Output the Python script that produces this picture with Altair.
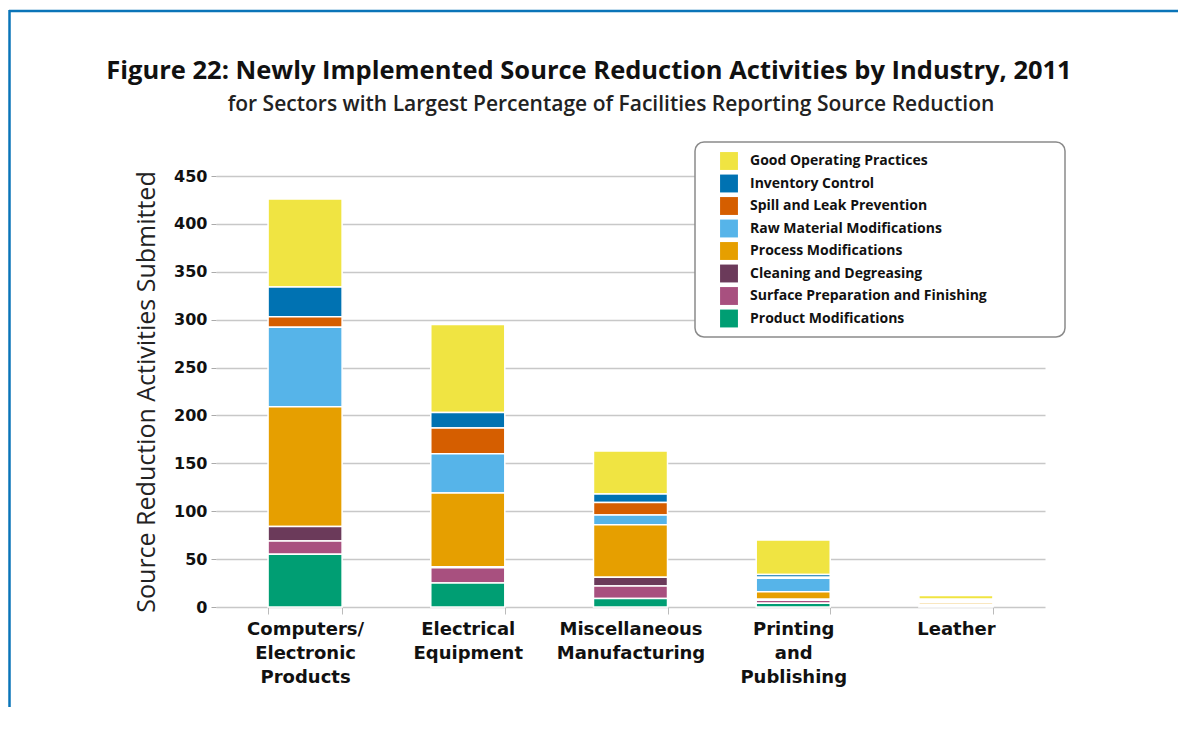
import altair as alt
import pandas as pd

# ---- data ----
industries = [
    "Computers/ Electronic Products",
    "Electrical Equipment",
    "Miscellaneous Manufacturing",
    "Printing and Publishing",
    "Leather",
]

# legend order (top of legend first)
activities = [
    "Good Operating Practices",
    "Inventory Control",
    "Spill and Leak Prevention",
    "Raw Material Modifications",
    "Process Modifications",
    "Cleaning and Degreasing",
    "Surface Preparation and Finishing",
    "Product Modifications",
]
colors = ["#f0e442", "#0072b2", "#d55e00", "#56b4e9", "#e69f00", "#6b3a5a", "#a8507f", "#009e73"]

good_operating = [92, 92, 45, 36, 4]
inventory_control = [31, 16, 9, 3, 1]
spill_leak = [11, 27, 13, 1, 1]
raw_material = [83, 41, 10, 14, 1]
process_mod = [125, 77, 55, 8, 2]
cleaning = [15, 1, 9, 1, 1]
surface_prep = [14, 16, 13, 3, 1]
product_mod = [55, 25, 9, 4, 1]

title_text = "Figure 22: Newly Implemented Source Reduction Activities by Industry, 2011"
subtitle_text = "for Sectors with Largest Percentage of Facilities Reporting Source Reduction"

series = [good_operating, inventory_control, spill_leak, raw_material,
          process_mod, cleaning, surface_prep, product_mod]

rows = []
for a_i, (act, vals) in enumerate(zip(activities, series)):
    for ind, v in zip(industries, vals):
        rows.append({"Industry": ind, "Activity": act, "Count": v,
                     "Stack": len(activities) - 1 - a_i})
df = pd.DataFrame(rows)

bars = alt.Chart(df).mark_bar(stroke="white", strokeWidth=1.5).encode(
    x=alt.X("Industry:N", sort=industries,
            scale=alt.Scale(paddingInner=0.545, paddingOuter=0.32),
            axis=alt.Axis(title=None, labelAngle=0,
                          labelExpr="datum.value ? split(datum.value, ' ') : ''",
                          labelFont="DejaVu Sans", labelFontWeight="bold",
                          labelFontSize=18, labelLineHeight=24, labelColor="#111",
                          labelPadding=6, tickBand="extent", tickColor="#bbbbbb",
                          tickSize=7, domain=False, grid=False)),
    y=alt.Y("Count:Q", scale=alt.Scale(domain=[0, 450]),
            axis=alt.Axis(values=list(range(0, 451, 50)),
                          title="Source Reduction Activities Submitted",
                          titleFont="Open Sans", titleFontWeight="normal",
                          titleFontSize=25, titleColor="#222", titlePadding=14,
                          labelFont="DejaVu Sans", labelFontWeight="bold",
                          labelFontSize=16, labelColor="#111", labelPadding=4,
                          tickColor="#aaaaaa", tickSize=5, domain=False,
                          gridColor="#c8c8c8", gridWidth=1.5)),
    color=alt.Color("Activity:N", scale=alt.Scale(domain=activities, range=colors),
                    legend=alt.Legend(title=None, orient="none", legendX=504, legendY=-24,
                                      padding=0, symbolType="square", symbolSize=320,
                                      symbolStrokeWidth=0, rowPadding=4.5, labelOffset=12,
                                      labelFont="Open Sans", labelFontWeight="bold",
                                      labelFontSize=14, labelColor="#111", labelLimit=400)),
    order=alt.Order("Stack:Q", sort="ascending"),
)

one = alt.Data(values=[{"k": 1}])

legend_box = alt.Chart(one).mark_rect(fill="white", stroke="#8a8a8a", strokeWidth=1.5,
                                      cornerRadius=9).encode(
    x=alt.value(479), x2=alt.value(849), y=alt.value(-34), y2=alt.value(161))

frame_top = alt.Chart(one).mark_rule(color="#0a74b8", strokeWidth=2.5).encode(
    x=alt.value(-207), x2=alt.value(990), y=alt.value(-165))
frame_left = alt.Chart(one).mark_rule(color="#0a74b8", strokeWidth=2.5).encode(
    x=alt.value(-206.5), y=alt.value(-166), y2=alt.value(560))

title = alt.Chart(one).mark_text(font="Open Sans", fontSize=25.5, fontWeight="bold",
                                 color="#111", align="center", baseline="alphabetic").encode(
    x=alt.value(373), y=alt.value(-97), text=alt.value(title_text))
subtitle = alt.Chart(one).mark_text(font="Open Sans", fontSize=21, fontWeight=600,
                                    color="#222", align="center", baseline="alphabetic").encode(
    x=alt.value(395), y=alt.value(-65), text=alt.value(subtitle_text))

chart = alt.layer(legend_box, bars, frame_top, frame_left, title, subtitle).properties(
    width=829, height=431,
    autosize=alt.AutoSizeParams(type="none"),
    padding={"left": 208, "top": 168, "right": 133, "bottom": 100},
    background="white",
).configure_view(stroke=None)

chart.save("out.html", embed_options={"renderer": "svg", "actions": False})
